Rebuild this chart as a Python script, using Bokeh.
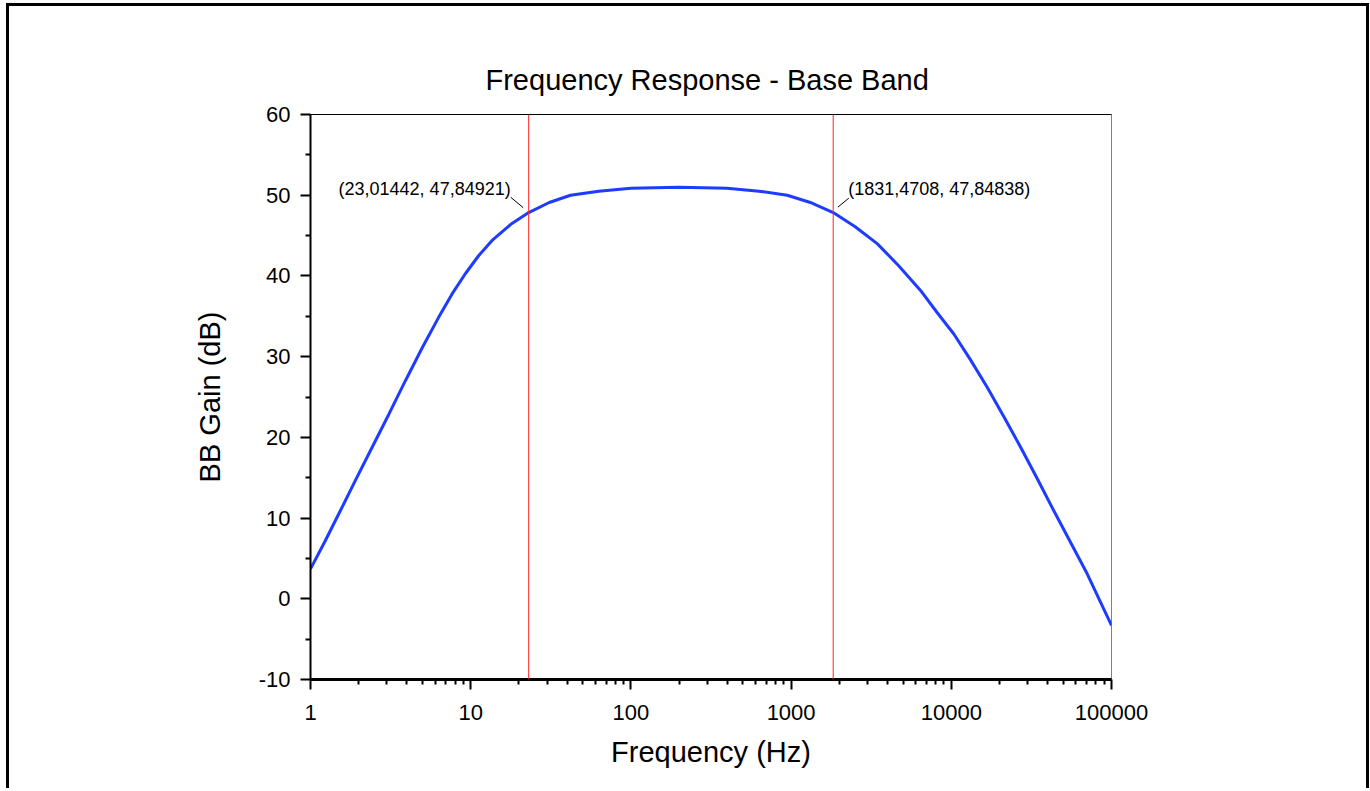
from bokeh.plotting import figure
from bokeh.models import (Range1d, FixedTicker, Span, Label, LogAxis,
                          CustomJSTickFormatter)
from bokeh.embed import file_html
from bokeh.resources import INLINE

# ---- data ----
freq_hz = [1, 1.23, 1.5, 1.9, 2.43, 3.09, 3.92, 5.01, 6.32, 7.67, 9.28,
           11.2, 13.6, 17.8, 23.01442, 30.9, 42, 63, 100, 200, 398, 631,
           946, 1318, 1831.4708, 2512, 3446, 4677, 6426, 8128, 10370,
           13183, 16750, 21380, 27040, 34360, 43650, 55460, 70500, 83950,
           100000]
gain_db = [3.7, 7.1, 10.5, 14.6, 18.8, 22.9, 27.05, 31.2, 34.9, 37.8, 40.3,
           42.5, 44.4, 46.4, 47.84921, 49.1, 50.0, 50.5, 50.85, 51.0, 50.85,
           50.5, 50.0, 49.1, 47.84838, 46.1, 44.0, 41.3, 38.2, 35.5, 32.8,
           29.6, 26.2, 22.5, 18.8, 14.9, 10.9, 7.0, 3.1, -0.1, -3.3]

cutoff_freqs = [23.01442, 1831.4708]
cutoff_gains = [47.84921, 47.84838]
cutoff_texts = ["(23,01442, 47,84921)", "(1831,4708, 47,84838)"]

x_major_ticks = [1, 10, 100, 1000, 10000, 100000]
y_major_ticks = [-10, 0, 10, 20, 30, 40, 50, 60]
y_minor_ticks = [-5, 5, 15, 25, 35, 45, 55]

FONT = "Liberation Sans"

p = figure(width=1357, height=785, x_axis_type="log",
           x_range=Range1d(1, 100000), y_range=Range1d(-10, 60),
           output_backend="svg", toolbar_location=None,
           min_border_left=301, min_border_right=255,
           min_border_top=108, min_border_bottom=112,
           title="Frequency Response - Base Band")
# page frame: left, top and right edges drawn just outside the figure
p.styles = {"margin-left": "9px", "margin-top": "6px",
            "box-shadow": "-3px -3px 0 0 #000, 3px -3px 0 0 #000"}

p.title.align = "left"
p.title.offset = 175
p.title.text_font = FONT
p.title.text_font_size = "29px"
p.title.text_font_style = "normal"
p.title.text_color = "black"
p.title.standoff = 37

p.xgrid.visible = False
p.ygrid.visible = False
p.background_fill_color = "white"
p.border_fill_color = "white"
p.outline_line_color = "#808080"
p.outline_line_width = 1

# x axis
xa = p.xaxis[0]
minor = []
for d in x_major_ticks[:-1]:
    minor += [d * k for k in range(2, 10)]
xa.ticker = FixedTicker(ticks=x_major_ticks, minor_ticks=minor)
xa.formatter = CustomJSTickFormatter(code="return Math.round(tick).toString();")
xa.axis_line_width = 3
xa.axis_line_color = "black"
xa.major_tick_line_width = 2
xa.minor_tick_line_width = 2
xa.major_tick_out = 10
xa.major_tick_in = 0
xa.minor_tick_out = 5
xa.minor_tick_in = 0
xa.major_label_standoff = 15
xa.major_label_text_font = FONT
xa.major_label_text_font_size = "22px"
xa.major_label_text_color = "black"
xa.axis_label = "Frequency (Hz)"
xa.axis_label_text_font = FONT
xa.axis_label_text_font_size = "29px"
xa.axis_label_text_font_style = "normal"
xa.axis_label_text_color = "black"
xa.axis_label_standoff = 13

# y axis
ya = p.yaxis[0]
ya.ticker = FixedTicker(ticks=y_major_ticks, minor_ticks=y_minor_ticks)
ya.formatter = CustomJSTickFormatter(code="return Math.round(tick).toString();")
ya.axis_line_width = 2
ya.axis_line_color = "black"
ya.major_tick_line_width = 2
ya.minor_tick_line_width = 2
ya.major_tick_out = 10
ya.major_tick_in = 0
ya.minor_tick_out = 5
ya.minor_tick_in = 0
ya.major_label_standoff = 10
ya.major_label_text_font = FONT
ya.major_label_text_font_size = "22px"
ya.major_label_text_color = "black"
ya.axis_label = "BB Gain (dB)"
ya.axis_label_text_font = FONT
ya.axis_label_text_font_size = "29px"
ya.axis_label_text_font_style = "normal"
ya.axis_label_text_color = "black"
ya.axis_label_standoff = 30

# top spine
top = LogAxis(ticker=FixedTicker(ticks=[]), axis_line_color="black",
              axis_line_width=1, major_tick_line_color=None,
              minor_tick_line_color=None, major_label_text_font_size="0px")
p.add_layout(top, "above")

# cutoff markers
for f in cutoff_freqs:
    p.add_layout(Span(location=f, dimension="height", line_color="#ff2020",
                      line_width=1))

# curve
p.line(freq_hz, gain_db, line_color="#1e3cff", line_width=3)

# annotation leaders and labels
lx0 = [cutoff_freqs[0] * 10 ** -0.034, cutoff_freqs[1] * 10 ** 0.029]
lx1 = [cutoff_freqs[0] * 10 ** -0.112, cutoff_freqs[1] * 10 ** 0.097]
ly0 = [cutoff_gains[0] + 0.6, cutoff_gains[1] + 0.67]
ly1 = [cutoff_gains[0] + 1.9, cutoff_gains[1] + 1.78]
p.segment(lx0, ly0, lx1, ly1, line_color="black", line_width=1)

aligns = ["right", "left"]
xoffs = [-18, 15]
for f, g, t, a, xo in zip(cutoff_freqs, cutoff_gains, cutoff_texts, aligns, xoffs):
    p.add_layout(Label(x=f, y=g, text=t, x_offset=xo, y_offset=24,
                       text_align=a, text_baseline="middle",
                       text_font=FONT, text_font_size="18px",
                       text_color="black"))

open("out.html", "w").write(file_html(p, INLINE))
